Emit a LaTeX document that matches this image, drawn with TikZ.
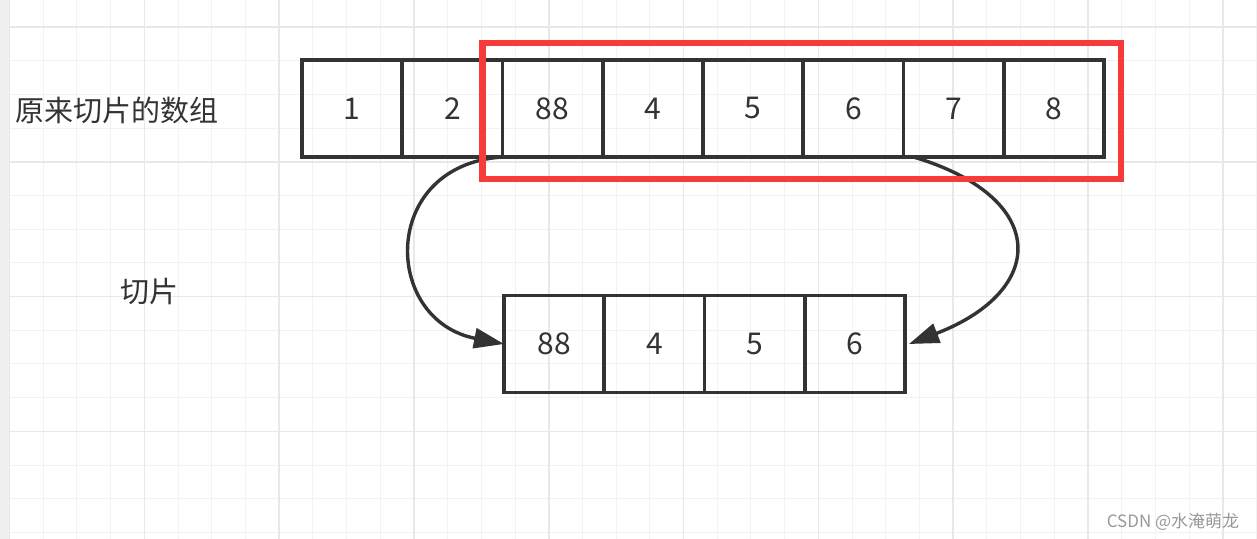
\documentclass[tikz,border=0pt]{standalone}
\usepackage{fontspec}
\setmainfont{Noto Sans CJK SC}
\usetikzlibrary{positioning, arrows.meta}
\definecolor{ink}{RGB}{51,51,51}
\definecolor{boxred}{RGB}{247,58,58}
\tikzset{
x=0.5pt, y=-0.5pt, % one unit is one pixel of the screenshot
>={Triangle[length=15pt,width=10pt]}, % solid arrow heads
node distance=50.125pt, % centre to centre distance of two cells
cell/.style={draw=ink, line width=1.9pt, minimum width=50.125pt, minimum height=48.5pt,
  inner sep=0pt, outer sep=0pt, text=ink, font=\fontsize{15}{18}\selectfont}, % one slot of an array
tag/.style={text=ink, font=\fontsize{14.5}{17}\selectfont}, % text beside the arrays
link/.style={->, draw=ink, line width=1.7pt}, % curved arrows
minorline/.style={draw=black!5, line width=0.5pt},
majorline/.style={draw=black!9, line width=0.8pt},
}

\begin{document}
\begin{tikzpicture}
    \useasboundingbox (0,0) rectangle (1257,539);
    \fill[white] (0,0) rectangle (1257,539);
    \fill[black!6] (0,0) rectangle (9.5,539);
    % grid
    \foreach \k in {0,...,37}
      \draw[minorline] ({9.5+33.7*\k},0) -- ({9.5+33.7*\k},539);
    \foreach \k in {0,...,15}
      \draw[minorline] (9.5,{27+33.7*\k}) -- (1257,{27+33.7*\k});
    \foreach \k in {0,4,...,36}
      \draw[majorline] ({9.5+33.7*\k},0) -- ({9.5+33.7*\k},539);
    \foreach \k in {0,4,...,12}
      \draw[majorline] (9.5,{27+33.7*\k}) -- (1257,{27+33.7*\k});

    % original array
    \node[cell] (t1) at (352.1,108.5) {1};
    \node[cell, right of=t1] (t2) {2};
    \node[cell, right of=t2] (t3) {88};
    \node[cell, right of=t3] (t4) {4};
    \node[cell, right of=t4] (t5) {5};
    \node[cell, right of=t5] (t6) {6};
    \node[cell, right of=t6] (t7) {7};
    \node[cell, right of=t7] (t8) {8};

    % slice
    \node[cell] (b1) at (554.1,344) {88};
    \node[cell, right of=b1] (b2) {4};
    \node[cell, right of=b2] (b3) {5};
    \node[cell, right of=b3] (b4) {6};

    \node[tag] (arrtag) at (116.5,110) {原来切片的数组};
    \node[tag] (slicetag) at (149.5,292) {切片};

    \draw[link] (t3.south west) .. controls +(-123,8) and +(-122,-24) .. (b1.west);
    \draw[link] ([xshift=5pt]t7.south west) .. controls +(135,40) and +(140,-54) .. ([xshift=2pt]b4.east);

    \draw[boxred, line width=3.3pt] (482.5,43) rectangle (1121,179);

    \node[text=black!40, font=\fontsize{8.5}{10}\selectfont] (mark) at (1173,522) {CSDN @水淹萌龙};
  \end{tikzpicture}
\end{document}
